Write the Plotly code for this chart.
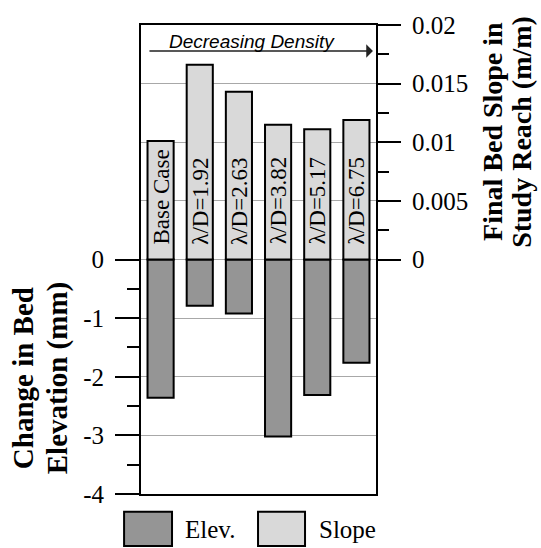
import plotly.graph_objects as go

# ---- data ----
categories = ["Base Case", "λ/D=1.92", "λ/D=2.63", "λ/D=3.82", "λ/D=5.17", "λ/D=6.75"]
elev_change_mm = [-2.36, -0.79, -0.92, -3.02, -2.31, -1.76]
final_slope = [0.0101, 0.0166, 0.0143, 0.0115, 0.0111, 0.0119]
left_tickvals = [0, -1, -2, -3, -4]
left_ticktext = ["0", "-1", "-2", "-3", "-4"]
right_tickvals = [0, 0.005, 0.01, 0.015, 0.02]
right_ticktext = ["0", "0.005", "0.01", "0.015", "0.02"]
left_title_lines = ["Change in Bed", "Elevation (mm)"]
right_title_lines = ["Final Bed Slope in", "Study Reach (m/m)"]
legend_labels = ["Elev.", "Slope"]

SERIF = "Liberation Serif, Times New Roman, serif"
DARK = "#959595"
LIGHT = "#d9d9d9"

fig = go.Figure()
fig.add_trace(go.Bar(
    x=categories, y=elev_change_mm, name=legend_labels[0], yaxis="y",
    marker=dict(color=DARK, line=dict(color="black", width=2)),
    width=0.667, showlegend=False, hoverinfo="skip"))
fig.add_trace(go.Bar(
    x=categories, y=final_slope, name=legend_labels[1], yaxis="y2",
    marker=dict(color=LIGHT, line=dict(color="black", width=2)),
    width=0.667, showlegend=False, hoverinfo="skip"))

annotations = []
# labels inside slope bars
for c in categories:
    annotations.append(dict(
        x=c, y=0, xref="x", yref="y2", text=c, showarrow=False,
        textangle=-90, xanchor="center", yanchor="bottom", yshift=13,
        font=dict(family=SERIF, size=23, color="black")))

# arrow and "Decreasing Density"
annotations.append(dict(
    x=0.987, y=0.9446, xref="paper", yref="paper", text="", showarrow=True,
    ax=-225, ay=0, arrowhead=1, arrowsize=1.6, arrowwidth=1.4,
    arrowcolor="#222222", standoff=0))
annotations.append(dict(
    x=0.472, y=0.964, xref="paper", yref="paper",
    text="<i>Decreasing Density</i>", showarrow=False,
    xanchor="center", yanchor="middle",
    font=dict(family="Liberation Sans Narrow, Arial Narrow, Liberation Sans, Arial, sans-serif",
              size=19, color="black")))

# axis titles, one annotation per line
for line, xp in zip(left_title_lines, [-0.502, -0.357]):
    annotations.append(dict(
        x=xp, y=0.247, xref="paper", yref="paper",
        text="<b>" + line + "</b>", showarrow=False,
        textangle=-90, xanchor="center", yanchor="middle",
        font=dict(family=SERIF, size=29, color="black")))
for line, xp in zip(right_title_lines, [1.498, 1.621]):
    annotations.append(dict(
        x=xp, y=0.772, xref="paper", yref="paper",
        text="<b>" + line + "</b>", showarrow=False,
        textangle=-90, xanchor="center", yanchor="middle",
        font=dict(family=SERIF, size=28, color="black")))

# custom legend
legend_geom = [(DARK, -0.072, 0.132, 0.179), (LIGHT, 0.498, 0.698, 0.749)]
shapes = []
for label, (col, x0, x1, tx) in zip(legend_labels, legend_geom):
    shapes.append(dict(type="rect", xref="paper", yref="paper",
                       x0=x0, x1=x1, y0=-0.111, y1=-0.038,
                       fillcolor=col, line=dict(color="black", width=2)))
    annotations.append(dict(x=tx, y=-0.075, xref="paper", yref="paper",
                            text=label, showarrow=False, xanchor="left",
                            yanchor="middle",
                            font=dict(family=SERIF, size=25, color="black")))

fig.update_layout(
    width=541, height=548,
    margin=dict(l=141, r=165, t=25, b=54),
    paper_bgcolor="white", plot_bgcolor="white",
    barmode="overlay",
    showlegend=False,
    hovermode=False,
    xaxis=dict(type="category", range=[-0.5, 5.5], showticklabels=False,
               ticks="", showgrid=False, zeroline=False,
               showline=True, mirror=True, linecolor="black", linewidth=2),
    yaxis=dict(range=[-4, 4], tickvals=left_tickvals, ticktext=left_ticktext,
               ticks="outside", ticklen=24, tickwidth=2, tickcolor="black",
               ticklabelstandoff=6,
               tickfont=dict(family=SERIF, size=25, color="black"),
               showgrid=True, gridcolor="#a8a8a8", gridwidth=1,
               zeroline=False, showline=True, mirror=True,
               linecolor="black", linewidth=2,
               minor=dict(tickvals=[-0.5, -1.5, -2.5, -3.5], ticks="outside",
                          ticklen=12, tickwidth=2, tickcolor="black",
                          showgrid=False)),
    yaxis2=dict(range=[-0.02, 0.02], overlaying="y", side="right", anchor="x",
                tickvals=right_tickvals, ticktext=right_ticktext,
                ticks="outside", ticklen=24, tickwidth=2, tickcolor="black",
                ticklabelstandoff=6,
                tickfont=dict(family=SERIF, size=25, color="black"),
                showgrid=True, gridcolor="#a8a8a8", gridwidth=1,
                zeroline=False, showline=False,
                minor=dict(tickvals=[0.0025, 0.0075, 0.0125, 0.0175],
                           ticks="outside", ticklen=12, tickwidth=2,
                           tickcolor="black", showgrid=False)),
    annotations=annotations,
    shapes=shapes,
)

fig.write_html("out.html",
               config={"displayModeBar": False, "staticPlot": True},
               post_script="document.body.style.margin='0';document.body.style.padding='0';document.body.style.overflow='hidden';")
